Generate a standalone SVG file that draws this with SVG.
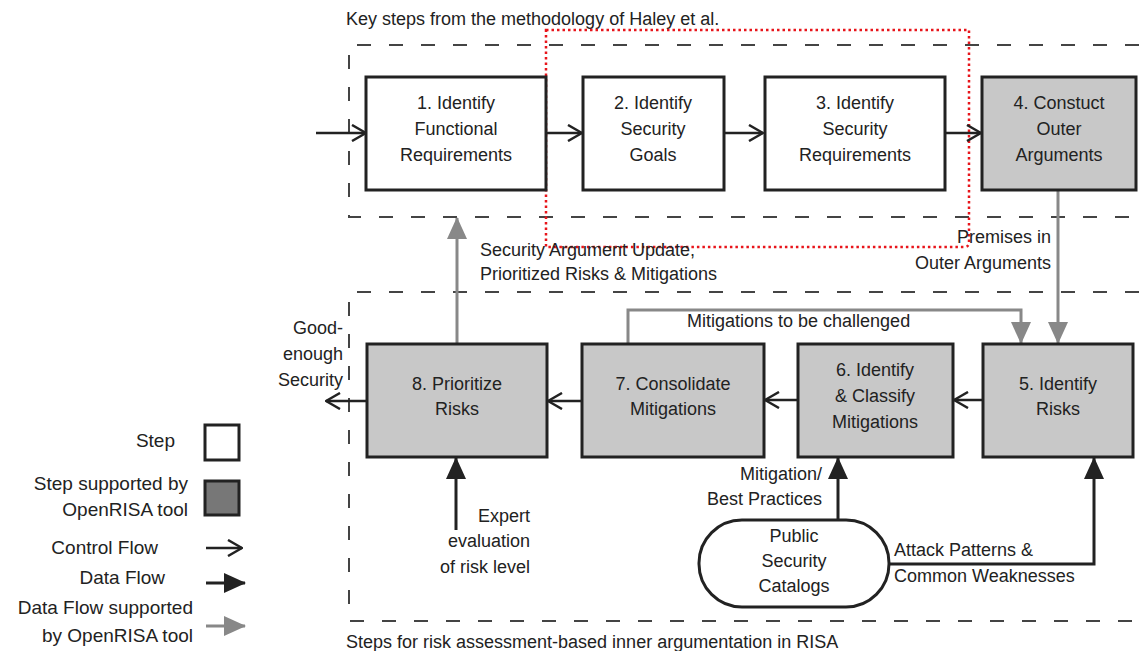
<svg xmlns="http://www.w3.org/2000/svg" width="1139" height="651" viewBox="0 0 1139 651">
  <style>
    text { font-family: "Liberation Sans", Arial, sans-serif; font-size: 18px; fill: #222; }
    .c { text-anchor: middle; }
    .r { text-anchor: end; }
    .lg { font-size: 19px; }
    .step { fill: #fff; stroke: #222; stroke-width: 3; }
    .tool { fill: #c8c8c8; stroke: #222; stroke-width: 3; }
    .frame { fill: none; stroke: #444; stroke-width: 2; stroke-dasharray: 14 18; }
    .ctrl { fill: none; stroke: #222; stroke-width: 2.5; marker-end: url(#open); }
    .data { fill: none; stroke: #222; stroke-width: 3; marker-end: url(#solid); }
    .gray { fill: none; stroke: #888; stroke-width: 3; marker-end: url(#solidGray); }
  </style>
  <defs>
    <marker id="open" viewBox="0 0 16 18" refX="15" refY="9" markerWidth="16" markerHeight="18" markerUnits="userSpaceOnUse" orient="auto">
      <path d="M1,1 L15,9 L1,17" fill="none" stroke="#222" stroke-width="2.5"/>
    </marker>
    <marker id="solid" viewBox="0 0 22 20" refX="21" refY="10" markerWidth="22" markerHeight="20" markerUnits="userSpaceOnUse" orient="auto">
      <path d="M0,0 L22,10 L0,20 Z" fill="#222"/>
    </marker>
    <marker id="solidGray" viewBox="0 0 22 20" refX="21" refY="10" markerWidth="22" markerHeight="20" markerUnits="userSpaceOnUse" orient="auto">
      <path d="M0,0 L22,10 L0,20 Z" fill="#888"/>
    </marker>
  </defs>

  <rect width="1139" height="651" fill="#fff"/>

  <!-- frames -->
  <g id="frames">
    <path class="frame" d="M1139,45 H349 V217 H1139"/>
    <path class="frame" d="M1139,292 H349 V621 H1139"/>
    <text x="346" y="25">Key steps from the methodology of Haley et al.</text>
    <text x="346" y="648">Steps for risk assessment-based inner argumentation in RISA</text>
  </g>

  <!-- highlight -->
  <path id="highlight" d="M546,30 H969 V242 Q969,247 964,247 H546 Z" fill="none" stroke="#e8141a" stroke-width="2.5" stroke-dasharray="2.5 3"/>

  <!-- connectors -->
  <g id="connectors">
    <line class="ctrl" x1="316" y1="133" x2="366" y2="133"/>
    <line class="ctrl" x1="546" y1="133" x2="582" y2="133"/>
    <line class="ctrl" x1="725" y1="133" x2="763" y2="133"/>
    <line class="ctrl" x1="946" y1="133" x2="981" y2="133"/>
    <line class="gray" x1="1058" y1="191" x2="1058" y2="343"/>
    <polyline class="gray" points="628,343 628,310 1021,310 1021,343"/>
    <line class="ctrl" x1="982" y1="400" x2="954" y2="400"/>
    <line class="ctrl" x1="797" y1="400" x2="765" y2="400"/>
    <line class="ctrl" x1="581" y1="401" x2="548" y2="401"/>
    <line class="ctrl" x1="366" y1="401" x2="326" y2="401"/>
    <line class="gray" x1="457" y1="343" x2="457" y2="218"/>
    <line class="data" x1="456" y1="530" x2="456" y2="458"/>
    <line class="data" x1="838" y1="520" x2="838" y2="458"/>
    <polyline class="data" points="889,564 1094,564 1094,458"/>

    <text class="r" x="1051" y="243">Premises in</text>
    <text class="r" x="1051" y="269">Outer Arguments</text>
    <text x="687" y="327">Mitigations to be challenged</text>
    <text x="480" y="256">Security Argument Update,</text>
    <text x="480" y="280">Prioritized Risks &amp; Mitigations</text>
    <text class="r" x="343" y="334">Good-</text>
    <text class="r" x="343" y="360">enough</text>
    <text class="r" x="343" y="386">Security</text>
    <text class="r" x="530" y="522">Expert</text>
    <text class="r" x="530" y="547">evaluation</text>
    <text class="r" x="530" y="573">of risk level</text>
    <text class="r" x="822" y="480">Mitigation/</text>
    <text class="r" x="822" y="505">Best Practices</text>
    <text x="894" y="556">Attack Patterns &amp;</text>
    <text x="894" y="582">Common Weaknesses</text>
  </g>

  <!-- steps -->
  <g id="step1">
    <rect class="step" x="366" y="77" width="180" height="113"/>
    <text class="c" x="456" y="109">1. Identify</text>
    <text class="c" x="456" y="135">Functional</text>
    <text class="c" x="456" y="161">Requirements</text>
  </g>
  <g id="step2">
    <rect class="step" x="583" y="77" width="141" height="113"/>
    <text class="c" x="653" y="109">2. Identify</text>
    <text class="c" x="653" y="135">Security</text>
    <text class="c" x="653" y="161">Goals</text>
  </g>
  <g id="step3">
    <rect class="step" x="765" y="77" width="180" height="113"/>
    <text class="c" x="855" y="109">3. Identify</text>
    <text class="c" x="855" y="135">Security</text>
    <text class="c" x="855" y="161">Requirements</text>
  </g>
  <g id="step4">
    <rect class="tool" x="982" y="77" width="154" height="113"/>
    <text class="c" x="1059" y="109">4. Constuct</text>
    <text class="c" x="1059" y="135">Outer</text>
    <text class="c" x="1059" y="161">Arguments</text>
  </g>
  <g id="step5">
    <rect class="tool" x="983" y="344" width="150" height="113"/>
    <text class="c" x="1058" y="390">5. Identify</text>
    <text class="c" x="1058" y="415">Risks</text>
  </g>
  <g id="step6">
    <rect class="tool" x="798" y="344" width="155" height="113"/>
    <text class="c" x="875" y="376">6. Identify</text>
    <text class="c" x="875" y="402">&amp; Classify</text>
    <text class="c" x="875" y="428">Mitigations</text>
  </g>
  <g id="step7">
    <rect class="tool" x="582" y="344" width="182" height="113"/>
    <text class="c" x="673" y="390">7. Consolidate</text>
    <text class="c" x="673" y="415">Mitigations</text>
  </g>
  <g id="step8">
    <rect class="tool" x="367" y="344" width="180" height="113"/>
    <text class="c" x="457" y="390">8. Prioritize</text>
    <text class="c" x="457" y="415">Risks</text>
  </g>
  <g id="catalogs">
    <rect x="699" y="520" width="190" height="87" rx="43" ry="43" fill="#fff" stroke="#222" stroke-width="3"/>
    <text class="c" x="794" y="542">Public</text>
    <text class="c" x="794" y="567">Security</text>
    <text class="c" x="794" y="592">Catalogs</text>
  </g>

  <!-- legend -->
  <g id="legend">
    <text class="r lg" x="175" y="447">Step</text>
    <rect x="205" y="425" width="34" height="35" fill="#fff" stroke="#222" stroke-width="3"/>
    <text class="r lg" x="188" y="490">Step supported by</text>
    <text class="r lg" x="188" y="516">OpenRISA tool</text>
    <rect x="205" y="481" width="34" height="34" fill="#777" stroke="#222" stroke-width="3"/>
    <text class="r lg" x="158" y="554">Control Flow</text>
    <line class="ctrl" x1="206" y1="548" x2="242" y2="548"/>
    <text class="r lg" x="165" y="584">Data Flow</text>
    <line class="data" x1="206" y1="583" x2="245" y2="583"/>
    <text class="r lg" x="193" y="614">Data Flow supported</text>
    <text class="r lg" x="193" y="642">by OpenRISA tool</text>
    <line class="gray" x1="206" y1="626" x2="245" y2="626"/>
  </g>
</svg>
